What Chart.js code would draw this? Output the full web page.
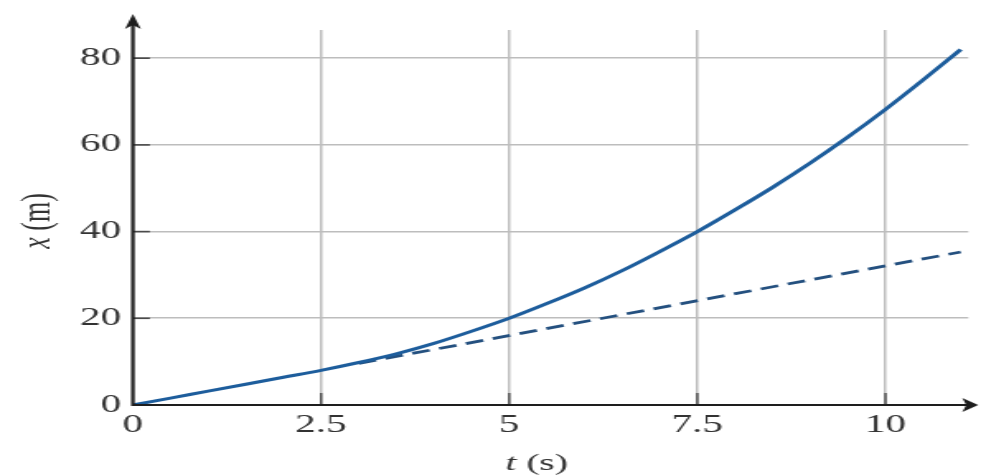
<!DOCTYPE html>
<html>
<head>
<meta charset="utf-8">
<script src="https://cdn.jsdelivr.net/npm/chart.js@4/dist/chart.umd.min.js"></script>
<style>
  html, body { margin: 0; padding: 0; background: #ffffff; overflow: hidden; }
  #wrap { width: 981px; height: 475px; overflow: hidden; }
  #stage { transform-origin: 0 0; }
  canvas { display: block; }
</style>
</head>
<body>
<div id="wrap"><div id="stage"><canvas id="c"></canvas></div></div>
<script>
// Position x (m) against time t (s): accelerating motion (solid)
// and the constant-velocity continuation (dashed).
const tSolid = [0, 0.5, 1, 1.5, 2, 2.5, 3, 3.5, 4, 4.5, 5, 5.5, 6, 6.5, 7, 7.5, 8, 8.5, 9, 9.5, 10, 10.5, 11];
const xSolid = [0, 1.6, 3.2, 4.8, 6.4, 8.0, 9.8, 11.8, 14.2, 17.0, 20.0, 23.4, 27.0, 31.0, 35.4, 40.0, 45.0, 50.2, 55.8, 61.8, 68.2, 75.0, 82.0];
const tDashed = [3, 11];
const xDashed = [9.6, 35.3];
const tTicks = [0, 2.5, 5, 7.5, 10];
const xTicks = [0, 20, 40, 60, 80];

// The figure is drawn narrow and widened horizontally, like the printed plot.
const SX = 1.65;
const W = Math.round(981 / SX);
const H = 475;
const canvas = document.getElementById('c');
canvas.width = W;
canvas.height = H;
document.getElementById('stage').style.transform = 'scaleX(' + (981 / W) + ')';

const LEFT = 133 / SX;      // y axis position
const RIGHT = 969 / SX;     // end of the plot area
const TOP = 30;
const BOTTOM = 405;
const TEXT = '#333333';
const SERIF = '"Liberation Serif", "DejaVu Serif", serif';

const axesPlugin = {
  id: 'axesPlugin',
  afterDraw(chart) {
    const ctx = chart.ctx;
    const xs = chart.scales.x, ys = chart.scales.y;
    const x0 = xs.getPixelForValue(0), y0 = ys.getPixelForValue(0);
    ctx.save();
    // small ticks
    ctx.strokeStyle = '#4a4a4a';
    ctx.lineWidth = 1.6;
    ys.ticks.forEach(t => {
      if (t.value === 0) return;
      const y = ys.getPixelForValue(t.value);
      ctx.beginPath(); ctx.moveTo(x0, y); ctx.lineTo(x0 + 17 / SX, y); ctx.stroke();
    });
    ctx.lineWidth = 1.4;
    xs.ticks.forEach(t => {
      if (t.value === 0) return;
      const x = xs.getPixelForValue(t.value);
      ctx.beginPath(); ctx.moveTo(x, y0); ctx.lineTo(x, y0 - 12); ctx.stroke();
    });
    // axis lines with arrow heads
    ctx.strokeStyle = '#1e1e1e';
    ctx.fillStyle = '#1e1e1e';
    ctx.lineWidth = 2.2;
    ctx.beginPath(); ctx.moveTo(x0, y0 + 1); ctx.lineTo(x0, 22); ctx.stroke();
    ctx.beginPath(); ctx.moveTo(x0 - 1 / SX, y0); ctx.lineTo(972 / SX, y0); ctx.stroke();
    ctx.beginPath();
    ctx.moveTo(x0, 14);
    ctx.lineTo(x0 - 8 / SX, 29);
    ctx.lineTo(x0, 25);
    ctx.lineTo(x0 + 8 / SX, 29);
    ctx.closePath(); ctx.fill();
    const xe = 979 / SX;
    ctx.beginPath();
    ctx.moveTo(xe, y0);
    ctx.lineTo(xe - 16 / SX, y0 - 7);
    ctx.lineTo(xe - 12 / SX, y0);
    ctx.lineTo(xe - 16 / SX, y0 + 7);
    ctx.closePath(); ctx.fill();
    // axis titles
    ctx.fillStyle = TEXT;
    ctx.textBaseline = 'middle';
    const drawParts = (parts, cx, cy, size) => {
      let total = 0;
      parts.forEach(p => { ctx.font = p[1] + ' ' + size + 'px ' + SERIF; total += ctx.measureText(p[0]).width; });
      let x = cx - total / 2;
      ctx.textAlign = 'left';
      parts.forEach(p => {
        ctx.font = p[1] + ' ' + size + 'px ' + SERIF;
        ctx.fillText(p[0], x, cy);
        x += ctx.measureText(p[0]).width;
      });
    };
    drawParts([['t', 'italic'], [' (s)', 'normal']], 537 / SX, 464, 24);
    ctx.save();
    ctx.translate(39 / SX, 221);
    ctx.rotate(-Math.PI / 2);
    drawParts([['x', 'italic'], [' (m)', 'normal']], 0, 0, 26);
    ctx.restore();
    ctx.restore();
  }
};

const gridColor = ctx => (ctx.tick && ctx.tick.value === 0) ? 'rgba(0,0,0,0)' : '#bdbdbd';

new Chart(canvas, {
  type: 'line',
  data: {
    datasets: [
      {
        label: 'x(t)',
        data: tSolid.map((t, i) => ({ x: t, y: xSolid[i] })),
        borderColor: '#1d5d9c',
        borderWidth: 3,
        pointRadius: 0,
        cubicInterpolationMode: 'monotone',
        fill: false
      },
      {
        label: 'constant velocity',
        data: tDashed.map((t, i) => ({ x: t, y: xDashed[i] })),
        borderColor: '#24507f',
        borderWidth: 2.8,
        borderDash: [11, 6],
        pointRadius: 0,
        fill: false
      }
    ]
  },
  options: {
    responsive: false,
    animation: false,
    devicePixelRatio: 1,
    layout: { padding: { left: 0, right: W - RIGHT, top: TOP, bottom: 0 } },
    plugins: { legend: { display: false }, tooltip: { enabled: false } },
    scales: {
      x: {
        type: 'linear',
        min: 0,
        max: 11.1,
        afterBuildTicks: s => { s.ticks = tTicks.map(v => ({ value: v })); },
        afterFit: s => { s.height = H - BOTTOM; },
        border: { display: false },
        grid: { color: gridColor, lineWidth: 1.5, drawTicks: false },
        ticks: {
          padding: 5,
          color: TEXT,
          font: { family: SERIF, size: 25 },
          maxRotation: 0,
          autoSkip: false,
          callback: v => String(v)
        }
      },
      y: {
        type: 'linear',
        min: 0,
        max: 86.5,
        afterBuildTicks: s => { s.ticks = xTicks.map(v => ({ value: v })); },
        afterFit: s => { s.width = LEFT; },
        border: { display: false },
        grid: { color: gridColor, lineWidth: 1.6, drawTicks: false },
        ticks: {
          padding: 7,
          color: TEXT,
          font: { family: SERIF, size: 25 },
          autoSkip: false,
          callback: v => String(v)
        }
      }
    }
  },
  plugins: [axesPlugin]
});
</script>
</body>
</html>
